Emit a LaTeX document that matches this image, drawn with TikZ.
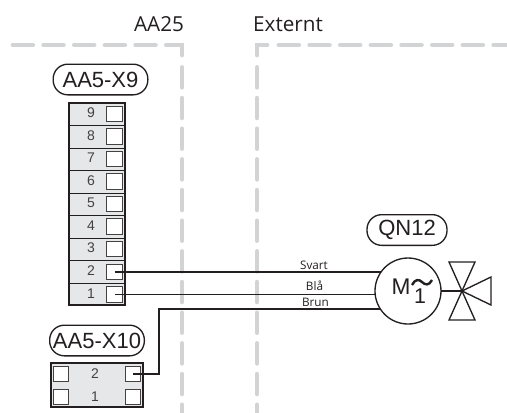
\documentclass[tikz,border=0pt]{standalone}
\usepackage{fontspec}
\setmainfont{Liberation Sans}
\newfontfamily\headfont{Open Sans}
\definecolor{zone}{HTML}{D1D3D4}
\definecolor{ink}{HTML}{231F20}
\definecolor{blockfill}{HTML}{E6E7E8}
\tikzset{
  zoneline/.style={draw=zone,line width=3.6pt,line cap=round},
  zonedash/.style={zoneline,dash pattern=on 14.8pt off 8.2pt},
  tag/.style={draw=ink,line width=1pt,rounded corners=11pt,minimum height=23pt,inner sep=0pt,outer sep=0pt,font=\fontsize{16.5}{16.5}\selectfont,text=ink},
  head/.style={font=\headfont\fontsize{15.5}{15.5}\selectfont,text=ink,inner sep=0pt},
  block/.style={draw=ink,line width=1.7pt,fill=blockfill,inner sep=0pt,outer sep=0pt},
  rowline/.style={draw=ink,line width=0.7pt},
  terminal/.style={draw=ink!85,line width=0.8pt,fill=white,minimum size=11.5pt,inner sep=0pt,outer sep=0pt},
  num/.style={font=\fontsize{10.5}{10.5}\selectfont,text=ink!85,inner sep=0pt},
  wire/.style={draw=ink,line width=1.3pt},
  wirelabel/.style={font=\headfont\fontsize{8.8}{8.8}\selectfont,text=ink,inner sep=0pt},
  symbol/.style={draw=ink,line width=1pt,line join=miter},
}
\begin{document}
\begin{tikzpicture}[x=0.75pt,y=-0.75pt]
\useasboundingbox[fill=white] (0,0) rectangle (507,412);
% zone borders
\draw[zonedash] (13,45) -- (172,45);
\draw[zoneline] (172.5,45) -- (182,45) -- (182,55);
\draw[zonedash] (182,67.5) -- (182,412);
\draw[zoneline] (267,45) -- (257,45) -- (257,55);
\draw[zonedash] (257,67.5) -- (257,412);
\draw[zonedash] (279,45) -- (507,45);
\node[head] (aa25) at (159,24) {AA25};
\node[head] (extern) at (288,24) {Externt};
% tags
\node[tag,minimum width=71pt] (tagx9) at (100.5,79.5) {AA5-X9};
\node[tag,minimum width=71pt] (tagx10) at (97,340.5) {AA5-X10};
\node[tag,minimum width=60pt] (tagqn) at (407,230) {QN12};
% X9 block
\draw[block] (69,103) rectangle (125,305);
\foreach \y in {125.5,148,170.5,193,215.5,238,260.5,283}
  \draw[rowline] (69,\y) -- (125,\y);
\foreach \n/\y in {9/114,8/136.5,7/159,6/181.5,5/204,4/226.5,3/249,2/272,1/294.5}{
  \node[terminal] (t\n) at (114.5,\y) {};
  \node[num] (n\n) at (91,\y-1) {\n};
}
% X10 block
\draw[block] (51,363) rectangle (143,407);
\node[terminal] (a2) at (61,374) {};
\node[terminal] (a1) at (61,397) {};
\node[terminal] (b2) at (133,374) {};
\node[terminal] (b1) at (133,397) {};
\node[num] (m2) at (95,373.5) {2};
\node[num] (m1) at (95,396.5) {1};
% motor
\node[draw=ink,line width=1pt,circle,minimum size=49.5pt,inner sep=0pt,outer sep=0pt,fill=white] (motor) at (408,291) {};
\node[font=\fontsize{17}{17}\selectfont,text=ink,inner sep=0pt] (mm) at (401,287) {M};
\node[font=\fontsize{16}{16}\selectfont,text=ink,inner sep=0pt] (mone) at (420,296.5) {1};
\draw[ink,line width=1.8pt] (412,285) .. controls (415,279) and (419,279) .. (422,282) .. controls (425,285) and (429,286) .. (432,280);
% valve
\coordinate (vc) at (462,291);
\draw[symbol] (449,262) -- (475,262) -- (449,320) -- (475,320) -- cycle;
\draw[symbol] (vc) -- (491,277) -- (491,305) -- cycle;
\draw[wire] (motor.east) -- (vc);
% wires
\coordinate (bend) at (159,309);
\draw[wire] (t2.center) -- (t2.center -| motor.145);
\draw[wire] (t1.center) -- (t1.center -| motor.185);
\draw[wire] (b2.center) -- (b2.center -| bend) -- (bend) -- (bend -| motor.213);
\node[wirelabel] (svart) at (314,265) {Svart};
\node[wirelabel] (bla) at (314.5,286) {Blå};
\node[wirelabel] (brun) at (315.5,302.5) {Brun};
\end{tikzpicture}
\end{document}
